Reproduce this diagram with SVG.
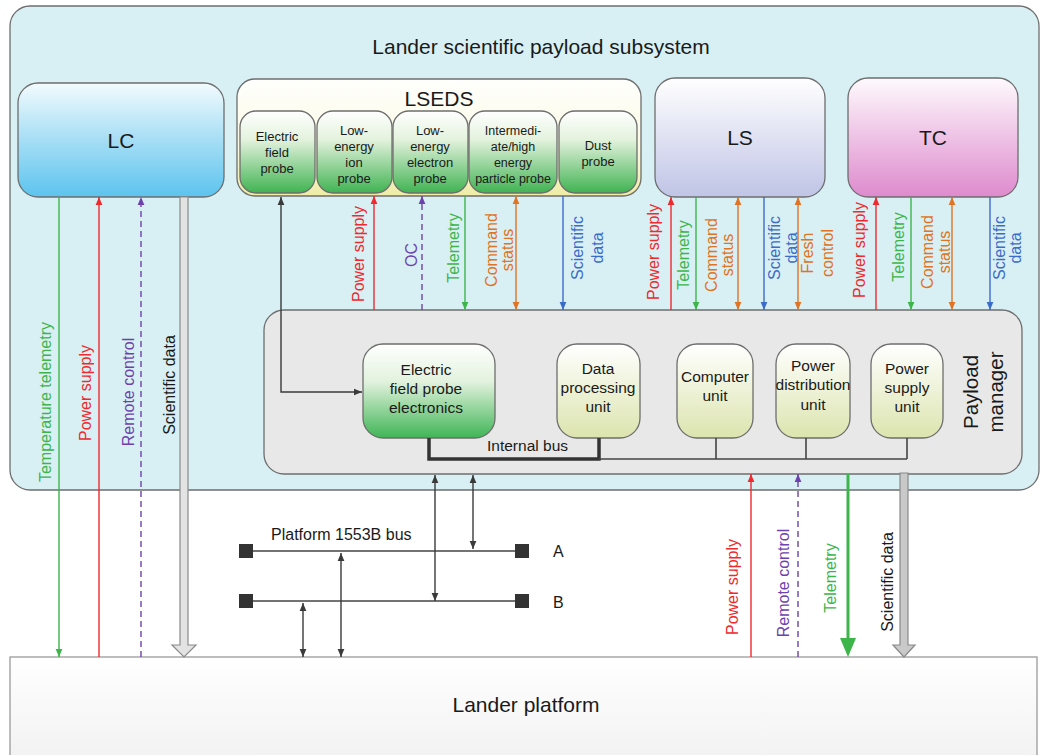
<svg xmlns="http://www.w3.org/2000/svg" width="1044" height="755" viewBox="0 0 1044 755">
<style>
text{font-family:"Liberation Sans",Arial,Helvetica,sans-serif}
.box{stroke:#6e6e6e;stroke-width:1.3}
.big{font-size:21px;fill:#1a1a1a;text-anchor:middle}
.pr{font-size:13px;fill:#1a1a1a;text-anchor:middle}
.un{font-size:15.5px;fill:#1a1a1a;text-anchor:middle}
.lb{font-size:16px;text-anchor:middle}
.ln{fill:none;stroke-width:1.4}
.r{stroke:#ee2a2e}.g{stroke:#3db54a}.o{stroke:#e07324}.b{stroke:#3b6cc9}.p{stroke:#6e42ad;stroke-dasharray:6 4}.k{stroke:#3a3a3a}
.tr{fill:#ee2a2e}.tg{fill:#3db54a}.to{fill:#e07324}.tb{fill:#3b6cc9}.tp{fill:#6e42ad}.tk{fill:#1a1a1a}
.bus{stroke:#444;stroke-width:1.6;fill:none}
</style>
<defs>
<linearGradient id="gLC" x1="0" y1="0" x2="0" y2="1"><stop offset="0" stop-color="#f3fbfe"/><stop offset="0.5" stop-color="#a6def5"/><stop offset="1" stop-color="#5cc3ee"/></linearGradient>
<linearGradient id="gLSEDS" x1="0" y1="0" x2="0" y2="1"><stop offset="0" stop-color="#fffffd"/><stop offset="0.6" stop-color="#fafae2"/><stop offset="1" stop-color="#eeeca4"/></linearGradient>
<linearGradient id="gProbe" x1="0" y1="0" x2="0" y2="1"><stop offset="0" stop-color="#ffffff"/><stop offset="0.35" stop-color="#e3f2dd"/><stop offset="1" stop-color="#40b352"/></linearGradient>
<linearGradient id="gLS" x1="0" y1="0" x2="0" y2="1"><stop offset="0" stop-color="#ffffff"/><stop offset="1" stop-color="#c0c4e6"/></linearGradient>
<linearGradient id="gTC" x1="0" y1="0" x2="0" y2="1"><stop offset="0" stop-color="#fefafd"/><stop offset="1" stop-color="#de8acd"/></linearGradient>
<linearGradient id="gEFP" x1="0" y1="0" x2="0" y2="1"><stop offset="0" stop-color="#ffffff"/><stop offset="0.4" stop-color="#e2f2dd"/><stop offset="1" stop-color="#3fb556"/></linearGradient>
<linearGradient id="gUnit" x1="0" y1="0" x2="0" y2="1"><stop offset="0" stop-color="#ffffff"/><stop offset="1" stop-color="#dce4ae"/></linearGradient>
<linearGradient id="gPlat" x1="0" y1="0" x2="0" y2="1"><stop offset="0" stop-color="#ffffff"/><stop offset="1" stop-color="#f1f1f1"/></linearGradient>
<marker id="mR" viewBox="0 0 10 10" refX="10" refY="5" markerWidth="8" markerHeight="8" markerUnits="userSpaceOnUse" orient="auto-start-reverse"><path d="M0,0.8 L10,5 L0,9.2 z" fill="#ee2a2e"/></marker>
<marker id="mG" viewBox="0 0 10 10" refX="10" refY="5" markerWidth="8" markerHeight="8" markerUnits="userSpaceOnUse" orient="auto-start-reverse"><path d="M0,0.8 L10,5 L0,9.2 z" fill="#3db54a"/></marker>
<marker id="mO" viewBox="0 0 10 10" refX="10" refY="5" markerWidth="8" markerHeight="8" markerUnits="userSpaceOnUse" orient="auto-start-reverse"><path d="M0,0.8 L10,5 L0,9.2 z" fill="#e07324"/></marker>
<marker id="mB" viewBox="0 0 10 10" refX="10" refY="5" markerWidth="8" markerHeight="8" markerUnits="userSpaceOnUse" orient="auto-start-reverse"><path d="M0,0.8 L10,5 L0,9.2 z" fill="#3b6cc9"/></marker>
<marker id="mP" viewBox="0 0 10 10" refX="10" refY="5" markerWidth="8" markerHeight="8" markerUnits="userSpaceOnUse" orient="auto-start-reverse"><path d="M0,0.8 L10,5 L0,9.2 z" fill="#6e42ad"/></marker>
<marker id="mK" viewBox="0 0 10 10" refX="10" refY="5" markerWidth="8" markerHeight="8" markerUnits="userSpaceOnUse" orient="auto-start-reverse"><path d="M0,0.8 L10,5 L0,9.2 z" fill="#3a3a3a"/></marker>
</defs>

<rect width="1044" height="755" fill="#ffffff"/>

<g id="subsystem">
<rect class="box" x="10" y="6" width="1029" height="484" rx="20" fill="#d8f0f4"/>
<text class="big" x="541" y="54">Lander scientific payload subsystem</text>
</g>

<g id="lander-platform">
<rect x="10" y="657" width="1027" height="110" fill="url(#gPlat)" stroke="#9a9a9a" stroke-width="1.3"/>
<text class="big" x="526" y="712">Lander platform</text>
</g>

<g id="LC">
<rect class="box" x="18" y="83" width="206" height="114" rx="20" fill="url(#gLC)"/>
<text class="big" x="121" y="148">LC</text>
</g>

<g id="LSEDS">
<rect class="box" x="237" y="79" width="404" height="117" rx="18" fill="url(#gLSEDS)"/>
<text class="big" x="439" y="106">LSEDS</text>
</g>
<g id="electric-field-probe">
<rect class="box" x="240" y="111" width="75" height="82" rx="16" fill="url(#gProbe)"/>
<text class="pr"><tspan x="277" y="141">Electric</tspan><tspan x="277" y="157">field</tspan><tspan x="277" y="173">probe</tspan></text>
</g>
<g id="low-energy-ion-probe">
<rect class="box" x="317" y="111" width="75" height="82" rx="16" fill="url(#gProbe)"/>
<text class="pr"><tspan x="354" y="135">Low-</tspan><tspan x="354" y="151">energy</tspan><tspan x="354" y="167">ion</tspan><tspan x="354" y="183">probe</tspan></text>
</g>
<g id="low-energy-electron-probe">
<rect class="box" x="393" y="111" width="75" height="82" rx="16" fill="url(#gProbe)"/>
<text class="pr"><tspan x="430" y="135">Low-</tspan><tspan x="430" y="151">energy</tspan><tspan x="430" y="167">electron</tspan><tspan x="430" y="183">probe</tspan></text>
</g>
<g id="intermediate-high-energy-particle-probe">
<rect class="box" x="469" y="111" width="88" height="82" rx="16" fill="url(#gProbe)"/>
<text class="pr" style="font-size:12.5px"><tspan x="513" y="135">Intermedi-</tspan><tspan x="513" y="151">ate/high</tspan><tspan x="513" y="167">energy</tspan><tspan x="513" y="183">particle probe</tspan></text>
</g>
<g id="dust-probe">
<rect class="box" x="559" y="111" width="78" height="82" rx="16" fill="url(#gProbe)"/>
<text class="pr"><tspan x="598" y="150">Dust</tspan><tspan x="598" y="166">probe</tspan></text>
</g>

<g id="LS">
<rect class="box" x="655" y="78" width="170" height="119" rx="20" fill="url(#gLS)"/>
<text class="big" x="740" y="145">LS</text>
</g>
<g id="TC">
<rect class="box" x="848" y="78" width="170" height="119" rx="20" fill="url(#gTC)"/>
<text class="big" x="933" y="145">TC</text>
</g>

<g id="payload-manager">
<rect class="box" x="264" y="310" width="758" height="164" rx="20" fill="#e8e8e8"/>
<text class="big" style="font-size:20.5px" transform="translate(978,392) rotate(-90)"><tspan x="0" y="0">Payload</tspan><tspan x="0" y="25">manager</tspan></text>
</g>
<g id="electric-field-probe-electronics">
<rect class="box" x="363" y="344" width="132" height="94" rx="20" fill="url(#gEFP)"/>
<text class="un"><tspan x="426" y="375">Electric</tspan><tspan x="426" y="394">field probe</tspan><tspan x="426" y="413">electronics</tspan></text>
</g>
<g id="data-processing-unit">
<rect class="box" x="557" y="344" width="83" height="94" rx="20" fill="url(#gUnit)"/>
<text class="un"><tspan x="598" y="374">Data</tspan><tspan x="598" y="393">processing</tspan><tspan x="598" y="412">unit</tspan></text>
</g>
<g id="computer-unit">
<rect class="box" x="677" y="344" width="76" height="94" rx="20" fill="url(#gUnit)"/>
<text class="un"><tspan x="715" y="382">Computer</tspan><tspan x="715" y="401">unit</tspan></text>
</g>
<g id="power-distribution-unit">
<rect class="box" x="776" y="344" width="74" height="94" rx="20" fill="url(#gUnit)"/>
<text class="un"><tspan x="813" y="371">Power</tspan><tspan x="813" y="390">distribution</tspan><tspan x="813" y="410">unit</tspan></text>
</g>
<g id="power-supply-unit">
<rect class="box" x="871" y="344" width="72" height="94" rx="20" fill="url(#gUnit)"/>
<text class="un"><tspan x="907" y="374">Power</tspan><tspan x="907" y="393">supply</tspan><tspan x="907" y="412">unit</tspan></text>
</g>

<g id="platform-1553b-bus">
<line class="bus" x1="246" y1="551" x2="522" y2="551"/>
<line class="bus" x1="246" y1="601" x2="522" y2="601"/>
<rect x="239" y="544" width="14" height="14" fill="#333"/>
<rect x="515" y="544" width="14" height="14" fill="#333"/>
<rect x="239" y="594" width="14" height="14" fill="#333"/>
<rect x="515" y="594" width="14" height="14" fill="#333"/>
<text style="font-size:16px;fill:#1a1a1a" x="271" y="540">Platform 1553B bus</text>
<text style="font-size:16px;fill:#1a1a1a" x="553" y="557">A</text>
<text style="font-size:16px;fill:#1a1a1a" x="553" y="608">B</text>
</g>

<g id="connectors">
<!-- internal bus -->
<path d="M429,438 V459 H599 V438" fill="none" stroke="#333" stroke-width="3.5"/>
<path d="M599,459 H907 M716,438 V459 M806,438 V459 M907,438 V459" fill="none" stroke="#444" stroke-width="1.6"/>
<text style="font-size:15.5px;fill:#1a1a1a" x="487" y="451">Internal bus</text>

<!-- electric field probe to electronics -->
<path class="ln k" d="M281,197 V392 H362" marker-start="url(#mK)" marker-end="url(#mK)"/>

<!-- LSEDS to payload manager -->
<path class="ln r" d="M374,310 V196" marker-end="url(#mR)"/>
<path class="ln p" d="M422,310 V196" marker-end="url(#mP)"/>
<path class="ln g" d="M465,196 V310" marker-end="url(#mG)"/>
<path class="ln o" d="M516,196 V310" marker-start="url(#mO)" marker-end="url(#mO)"/>
<path class="ln b" d="M563,196 V310" marker-end="url(#mB)"/>
<text class="lb tr" transform="translate(364,254) rotate(-90)">Power supply</text>
<text class="lb tp" transform="translate(417,255) rotate(-90)">OC</text>
<text class="lb tg" transform="translate(459,248) rotate(-90)">Telemetry</text>
<text class="lb to" transform="translate(497,250) rotate(-90)"><tspan x="0" y="0">Command</tspan><tspan x="0" y="16">status</tspan></text>
<text class="lb tb" transform="translate(583,248) rotate(-90)"><tspan x="0" y="0">Scientific</tspan><tspan x="0" y="20">data</tspan></text>

<!-- LS to payload manager -->
<path class="ln r" d="M671,310 V197" marker-end="url(#mR)"/>
<path class="ln g" d="M696,197 V310" marker-end="url(#mG)"/>
<path class="ln o" d="M738,197 V310" marker-start="url(#mO)" marker-end="url(#mO)"/>
<path class="ln b" d="M764,197 V310" marker-end="url(#mB)"/>
<path class="ln o" d="M798,197 V310" marker-start="url(#mO)" marker-end="url(#mO)"/>
<text class="lb tr" transform="translate(659,252) rotate(-90)">Power supply</text>
<text class="lb tg" transform="translate(689,255) rotate(-90)">Telemetry</text>
<text class="lb to" transform="translate(717,255) rotate(-90)"><tspan x="0" y="0">Command</tspan><tspan x="0" y="16">status</tspan></text>
<text class="lb tb" transform="translate(780,248) rotate(-90)"><tspan x="0" y="0">Scientific</tspan><tspan x="0" y="17">data</tspan></text>
<text class="lb to" transform="translate(813,253) rotate(-90)"><tspan x="0" y="0">Fresh</tspan><tspan x="0" y="20">control</tspan></text>

<!-- TC to payload manager -->
<path class="ln r" d="M876,310 V197" marker-end="url(#mR)"/>
<path class="ln g" d="M911,197 V310" marker-end="url(#mG)"/>
<path class="ln o" d="M952,197 V310" marker-start="url(#mO)" marker-end="url(#mO)"/>
<path class="ln b" d="M990,197 V310" marker-end="url(#mB)"/>
<text class="lb tr" transform="translate(865,250) rotate(-90)">Power supply</text>
<text class="lb tg" transform="translate(904,247) rotate(-90)">Telemetry</text>
<text class="lb to" transform="translate(933,252) rotate(-90)"><tspan x="0" y="0">Command</tspan><tspan x="0" y="17">status</tspan></text>
<text class="lb tb" transform="translate(1005,248) rotate(-90)"><tspan x="0" y="0">Scientific</tspan><tspan x="0" y="16">data</tspan></text>

<!-- LC to lander platform -->
<path class="ln g" d="M59,197 V657" marker-end="url(#mG)"/>
<path class="ln r" d="M99,657 V197" marker-end="url(#mR)"/>
<path class="ln p" d="M141,657 V197" marker-end="url(#mP)"/>
<path d="M180,197 V645 H172 L184,657 L196,645 H188 V197 Z" fill="#e3e3e3" stroke="#8a8a8a" stroke-width="1.2"/>
<text class="lb tg" transform="translate(51,402) rotate(-90)">Temperature telemetry</text>
<text class="lb tr" transform="translate(91,393) rotate(-90)">Power supply</text>
<text class="lb tp" transform="translate(134,392) rotate(-90)">Remote control</text>
<text class="lb tk" transform="translate(175,385) rotate(-90)">Scientific data</text>

<!-- payload manager to lander platform -->
<path class="ln r" d="M751,657 V474" marker-end="url(#mR)"/>
<path class="ln p" d="M798,657 V474" marker-end="url(#mP)"/>
<path d="M848,474 V640" fill="none" stroke="#3db54a" stroke-width="3"/>
<path d="M840,638 H856 L848,657 Z" fill="#3db54a"/>
<path d="M900,473 V645 H893 L904,657 L915,645 H908 V473 Z" fill="#c9c9c9" stroke="#8a8a8a" stroke-width="1.2"/>
<text class="lb tr" transform="translate(738,587) rotate(-90)">Power supply</text>
<text class="lb tp" transform="translate(789,583) rotate(-90)">Remote control</text>
<text class="lb tg" transform="translate(836,578) rotate(-90)">Telemetry</text>
<text class="lb tk" transform="translate(893,582) rotate(-90)">Scientific data</text>

<!-- 1553B bus links -->
<path class="ln k" d="M435,475 V601" marker-start="url(#mK)" marker-end="url(#mK)"/>
<path class="ln k" d="M473,475 V549" marker-start="url(#mK)" marker-end="url(#mK)"/>
<path class="ln k" d="M341,553 V657" marker-start="url(#mK)" marker-end="url(#mK)"/>
<path class="ln k" d="M303,603 V657" marker-start="url(#mK)" marker-end="url(#mK)"/>
</g>
</svg>
